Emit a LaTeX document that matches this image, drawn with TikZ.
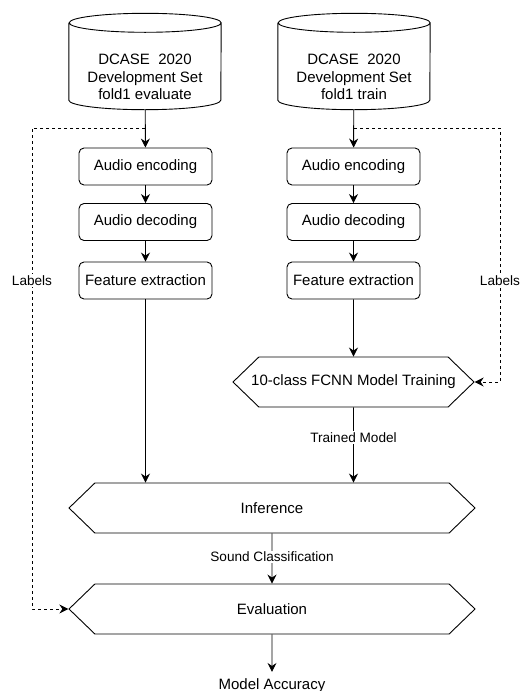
\documentclass[tikz,border=0pt]{standalone}
\usepackage{fontspec}
\setmainfont{Liberation Sans}
\usetikzlibrary{arrows.meta,shapes.symbols}

\newcommand{\settext}[1]{\raisebox{-21pt}[0pt][0pt]{\begin{tabular}{@{}c@{}}#1\end{tabular}}}

\tikzset{
  flow/.style={-{Stealth[length=9pt,width=9pt,inset=3pt]},line width=0.9pt},
  dashline/.style={flow,dashed,line width=0.8pt,dash pattern=on 3pt off 3pt},
  dbase/.style={minimum width=152pt,minimum height=96pt,inner sep=0pt,
    font=\fontsize{15}{17.5}\selectfont},
  stepbox/.style={draw,line width=0.9pt,rounded corners=5pt,minimum width=133pt,
    minimum height=37pt,font=\fontsize{15}{17.5}\selectfont},
  hexbox/.style={draw,line width=0.9pt,signal,signal to=west and east,
    signal pointer angle=88,minimum height=50pt,
    font=\fontsize{15}{17.5}\selectfont},
  lbl/.style={fill=white,inner sep=1.5pt,font=\fontsize{13.6}{16}\selectfont}
}

\begin{document}
\begin{tikzpicture}[x=1pt,y=-1pt]
  \useasboundingbox (0,0) rectangle (521,691);
  % data sets
  \node[dbase] (setL) at (145,61.5) {\settext{DCASE\ \ 2020\\Development Set\\fold1 evaluate}};
  \node[dbase] (setR) at (354,61.5) {\settext{DCASE\ \ 2020\\Development Set\\fold1 train}};
  \foreach \s in {setL,setR}
    \draw[line width=0.9pt] ([yshift=-9.5pt]\s.north west) -- ([yshift=9.5pt]\s.south west)
      arc[start angle=180,end angle=360,x radius=76pt,y radius=9.5pt]
      -- ([yshift=-9.5pt]\s.north east)
      arc[start angle=0,end angle=180,x radius=76pt,y radius=9.5pt]
      arc[start angle=180,end angle=360,x radius=76pt,y radius=9.5pt];
  % left column
  \node[stepbox] (encL) at (145.5,166.5) {Audio encoding};
  \node[stepbox] (decL) at (145.5,222) {Audio decoding};
  \node[stepbox] (featL) at (145.5,280.5) {Feature extraction};
  % right column
  \node[stepbox] (encR) at (353.5,166.5) {Audio encoding};
  \node[stepbox] (decR) at (353.5,222) {Audio decoding};
  \node[stepbox] (featR) at (353.5,280.5) {Feature extraction};
  \node[hexbox,minimum width=241pt,inner xsep=-9pt] (train) at (353.5,382) {10-class FCNN Model Training};
  % bottom
  \node[hexbox,minimum width=406pt] (infer) at (272,508) {Inference};
  \node[hexbox,minimum width=406pt] (evalu) at (272,609) {Evaluation};
  \node[font=\fontsize{15}{17.5}\selectfont,anchor=base,inner sep=6pt] (acc) at (272,689) {Model Accuracy};

  \coordinate (splitL) at (145,128);
  \coordinate (splitR) at (354,128);
  \coordinate (cornL) at (32,128);
  \coordinate (cornR) at (500,128);

  \draw[flow] (setL) -- (encL);
  \draw[flow] (encL) -- (decL);
  \draw[flow] (decL) -- (featL);
  \draw[flow] (featL) -- (featL |- infer.north);
  \draw[flow] (setR) -- (encR);
  \draw[flow] (encR) -- (decR);
  \draw[flow] (decR) -- (featR);
  \draw[flow] (featR) -- (train);
  \draw[flow] (train) -- (train |- infer.north) node[lbl,pos=0.4] {Trained Model};
  \draw[flow] (infer) -- (evalu) node[lbl,pos=0.47] {Sound Classification};
  \draw[flow] (evalu) -- (acc);

  % labels
  \draw[dashline] (splitL) -- (cornL) |- (evalu.west) node[lbl,pos=0.159] {Labels};
  \draw[dashline] (splitR) -- (cornR) |- (train.east) node[lbl,pos=0.301] {Labels};
\end{tikzpicture}
\end{document}
